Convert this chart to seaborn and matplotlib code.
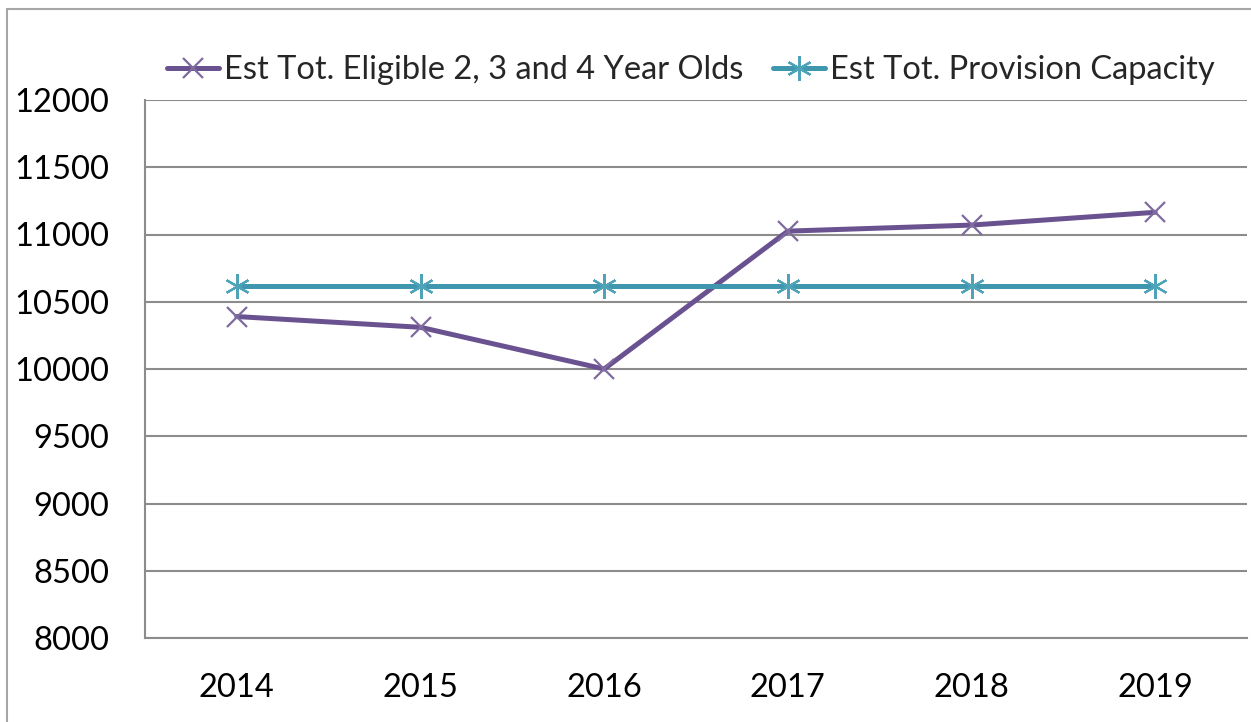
import matplotlib
matplotlib.use("Agg")
import matplotlib.pyplot as plt
import seaborn as sns
from matplotlib.lines import Line2D
from matplotlib.ticker import FixedLocator

years = ["2014", "2015", "2016", "2017", "2018", "2019"]
eligible = [10390, 10310, 10000, 11025, 11070, 11165]
capacity = [10620, 10620, 10620, 10620, 10620, 10620]
labels = ["Est Tot. Eligible 2, 3 and 4 Year Olds", "Est Tot. Provision Capacity"]
yticks = [8000, 8500, 9000, 9500, 10000, 10500, 11000, 11500, 12000]

sns.set_style("white")
plt.rcParams["font.family"] = ["Lato", "DejaVu Sans"]

fig = plt.figure(figsize=(12.51, 7.22), dpi=100)
ax = fig.add_axes([145 / 1251, 1 - 638 / 722, (1247 - 145) / 1251, (638 - 100) / 722])

grey = "#8C8C8C"
purple = "#6A5290"
teal = "#3E97AF"
star = (6, 2, 0)

# series 1 - eligible children
sns.lineplot(x=years, y=eligible, color=purple, linewidth=3.6, marker="x",
             markersize=14, markeredgewidth=1.6, markeredgecolor="#7E6A9E",
             ax=ax, label=labels[0], legend=False)
# series 2 - capacity
sns.lineplot(x=years, y=capacity, color=teal, linewidth=3.6, marker=star,
             markersize=18, markeredgewidth=1.6, markeredgecolor="#4FA3B9",
             ax=ax, label=labels[1], legend=False)

ax.set_xlim(-0.5, 5.5)
ax.set_ylim(8000, 12000)
ax.set_yticks(yticks)
ax.set_yticklabels([str(v) for v in yticks])
ax.set_xlabel("")
ax.set_ylabel("")

ax.grid(axis="y", color=grey, linewidth=1.5)
ax.set_axisbelow(True)
for s in ["top", "right"]:
    ax.spines[s].set_visible(False)
for s in ["left", "bottom"]:
    ax.spines[s].set_color(grey)
    ax.spines[s].set_linewidth(1.5)

ax.xaxis.set_minor_locator(FixedLocator([i - 0.5 for i in range(len(years) + 1)]))
ax.tick_params(axis="x", which="major", length=0, pad=25, labelsize=23.5, colors="black")
ax.tick_params(axis="x", which="minor", length=10, width=1.5, color=grey, direction="out")
ax.tick_params(axis="y", length=10, width=1.5, color=grey, direction="out", pad=16,
               labelsize=23.5, labelcolor="black")

handles = [Line2D([], [], color=purple, linewidth=3.6, marker="x", markersize=14,
                  markeredgewidth=1.6, markeredgecolor="#7E6A9E"),
           Line2D([], [], color=teal, linewidth=3.6, marker=star, markersize=18,
                  markeredgewidth=1.6, markeredgecolor="#4FA3B9")]
fig.legend(handles, labels, loc="center", bbox_to_anchor=(691 / 1251, 1 - 70 / 722),
           ncol=2, frameon=False, fontsize=23.5, handlelength=1.6, handletextpad=0.15,
           columnspacing=0.9, borderpad=0.1)

# outer chart border (only top/left visible in crop)
fig.add_artist(Line2D([7 / 1251, 1.0], [1 - 9 / 722, 1 - 9 / 722], color="#A6A6A6",
                      linewidth=1.5, transform=fig.transFigure))
fig.add_artist(Line2D([7 / 1251, 7 / 1251], [0.0, 1 - 9 / 722], color="#A6A6A6",
                      linewidth=1.5, transform=fig.transFigure))

fig.savefig("out.png", dpi=100)
